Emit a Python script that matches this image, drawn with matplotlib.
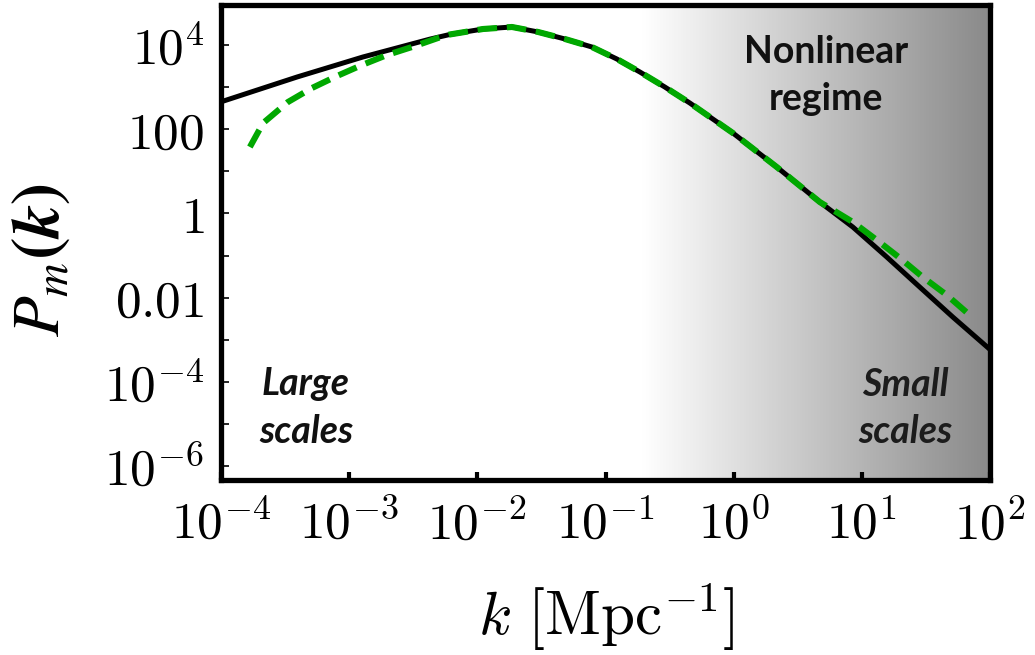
import numpy as np
import matplotlib
matplotlib.use("Agg")
import matplotlib.pyplot as plt
from matplotlib.colors import LinearSegmentedColormap
from matplotlib.ticker import FixedLocator, NullFormatter

plt.rcParams["mathtext.fontset"] = "cm"

# Matter power spectrum: linear theory (black) and nonlinear (green)
k_lin = [1.0e-4, 3.92e-4, 1.28e-3, 4.27e-3, 6.11e-3, 0.01107, 0.01862, 0.02972,
         0.0482, 0.0783, 0.1227, 0.1854, 0.2904, 0.455, 0.986, 2.173, 4.70,
         8.51, 15.67, 28.3, 51.3, 100.0]
p_lin = [447, 1738, 5190, 13800, 17800, 23990, 26790, 20420,
         13900, 8970, 4645, 2286, 1005, 419, 81.3, 12.6, 1.866,
         0.475, 0.0920, 0.01786, 0.00346, 5.89e-4]

k_nl = [1.68e-4, 2.13e-4, 3.33e-4, 5.13e-4, 8.04e-4, 1.259e-3, 1.972e-3, 3.09e-3,
        4.93e-3, 6.11e-3, 0.01107, 0.01862, 0.02972, 0.0482, 0.0783, 0.1227,
        0.1854, 0.2904, 0.455, 0.986, 2.173, 4.70, 8.51, 13.09, 19.82, 29.9,
        46.0, 69.5]
p_nl = [37.8, 140, 443, 953, 1837, 3350, 5780, 8954,
        14660, 17800, 23990, 26790, 20420, 13900, 8970, 4645,
        2286, 1005, 419, 81.3, 12.6, 1.866, 0.625, 0.2333, 0.0873, 0.0308,
        0.01153, 0.00386]

x_ticks = [1e-4, 1e-3, 1e-2, 1e-1, 1e0, 1e1, 1e2]
x_labels = [r"$10^{-4}$", r"$10^{-3}$", r"$10^{-2}$", r"$10^{-1}$",
            r"$10^{0}$", r"$10^{1}$", r"$10^{2}$"]
y_ticks = [1e-6, 1e-4, 1e-2, 1e0, 1e2, 1e4]
y_labels = [r"$10^{-6}$", r"$10^{-4}$", r"$0.01$", r"$1$", r"$100$", r"$10^{4}$"]
y_minor = [1e-5, 1e-3, 1e-1, 1e1, 1e3]

W, H = 1035, 655
fig = plt.figure(figsize=(W / 100, H / 100), dpi=100)
ax = fig.add_axes([221 / W, 1 - 480 / H, 769 / W, 475 / H])
ax.set_xscale("log")
ax.set_yscale("log")
ax.set_xlim(1e-4, 1e2)
ax.set_ylim(10 ** -6.33, 10 ** 4.95)

# Shaded nonlinear regime: white fading to grey toward small scales
grad_start = 0.547
cols = np.linspace(0, 1, 800)
vals = np.clip((cols - grad_start) / (1 - grad_start), 0, 1)
cmap = LinearSegmentedColormap.from_list("shade", ["#ffffff", "#8a8a8a"])
ax.imshow(vals[np.newaxis, :], cmap=cmap, vmin=0, vmax=1, aspect="auto",
          extent=[0, 1, 0, 1], transform=ax.transAxes, zorder=0,
          interpolation="bilinear")

ax.plot(k_lin, p_lin, color="black", lw=3.6, zorder=3, solid_capstyle="butt",
        solid_joinstyle="round")
ax.plot(k_nl, p_nl, color="#00a800", lw=4.4, zorder=4, dashes=(3.2, 1.6),
        dash_capstyle="butt", dash_joinstyle="round")

for side in ax.spines.values():
    side.set_linewidth(3.8)
    side.set_zorder(6)

ax.xaxis.set_major_locator(FixedLocator(x_ticks))
ax.set_xticklabels(x_labels)
ax.xaxis.set_minor_locator(FixedLocator([]))
ax.xaxis.set_minor_formatter(NullFormatter())
ax.yaxis.set_major_locator(FixedLocator(y_ticks))
ax.set_yticklabels(y_labels)
ax.yaxis.set_minor_locator(FixedLocator(y_minor))
ax.yaxis.set_minor_formatter(NullFormatter())

ax.tick_params(axis="x", which="major", direction="in", length=6, width=3,
               labelsize=37, pad=14)
ax.tick_params(axis="y", which="both", direction="in", length=6, width=1.2,
               labelsize=37, pad=12)

fig.text(40 / W, 1 - 260 / H, r"$\boldsymbol{P_m(k)}$", rotation=90,
         ha="center", va="center", fontsize=48, math_fontfamily="stix")
fig.text(606 / W, 1 - 617 / H, r"$k\ [\mathrm{Mpc}^{-1}]$",
         ha="center", va="center", fontsize=44)


def note(x, y, s, italic=False, color="#111111"):
    fig.text(x / W, 1 - y / H, s, ha="center", va="baseline", fontsize=27,
             fontweight="bold", style="italic" if italic else "normal",
             family="Lato", color=color)


note(826, 63, "Nonlinear")
note(826, 110, "regime")
note(306, 395, "Large", italic=True)
note(306, 443, "scales", italic=True)
note(905, 396, "Small", italic=True, color="#1c1c1c")
note(905, 443, "scales", italic=True, color="#1c1c1c")

fig.savefig("out.png", dpi=100)
